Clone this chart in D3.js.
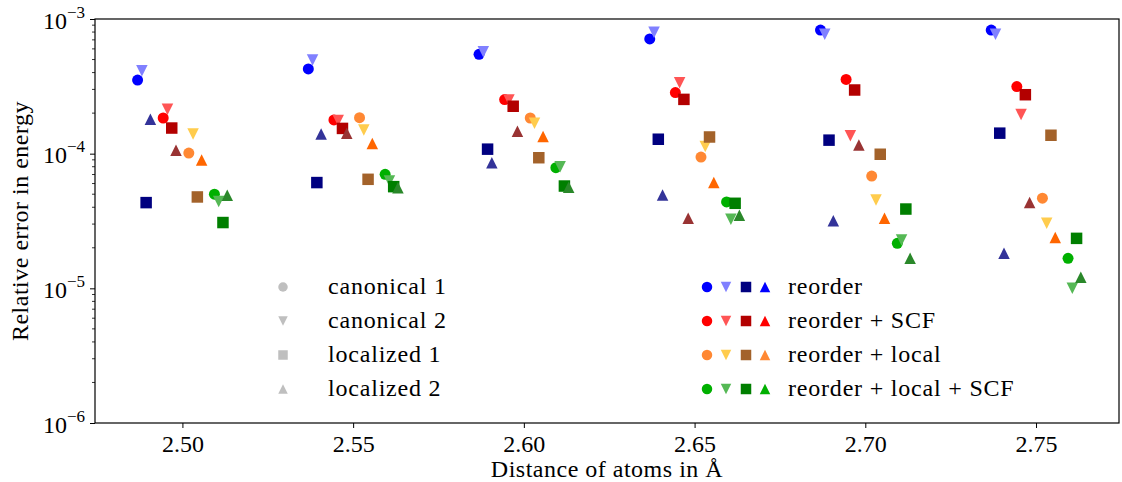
<!DOCTYPE html>
<html>
<head>
<meta charset="utf-8">
<script src="https://cdn.jsdelivr.net/npm/d3@7"></script>
<style>
  body { margin: 0; background: #fff; }
  svg, svg text { font-family: 'Liberation Serif', 'Times New Roman', serif; }
  .tick text { font-size: 24px; fill: #000; }
  .axis-label { font-size: 24px; fill: #000; letter-spacing: 0.5px; }
  .legend text { font-size: 24px; fill: #000; letter-spacing: 0.8px; }
</style>
</head>
<body>
<svg id="chart" width="1122" height="482"></svg>
<script>
const distances = [2.50, 2.55, 2.60, 2.65, 2.70, 2.75];
const xTicks = [2.50, 2.55, 2.60, 2.65, 2.70, 2.75];
const yTicks = [1e-6, 1e-5, 1e-4, 1e-3];
const orbitals = ['canonical 1', 'canonical 2', 'localized 1', 'localized 2'];
const methods = ['reorder', 'reorder + SCF', 'reorder + local', 'reorder + local + SCF'];

// rows: canonical 1, canonical 2, localized 1, localized 2
const reorder = [
  [3.52e-4, 4.26e-4, 5.47e-4, 7.11e-4, 8.28e-4, 8.28e-4],
  [4.13e-4, 4.97e-4, 5.71e-4, 7.96e-4, 7.70e-4, 7.70e-4],
  [4.33e-5, 6.10e-5, 1.08e-4, 1.28e-4, 1.26e-4, 1.42e-4],
  [1.80e-4, 1.40e-4, 8.57e-5, 4.93e-5, 3.18e-5, 1.82e-5]
];
const reorderScf = [
  [1.84e-4, 1.78e-4, 2.52e-4, 2.84e-4, 3.56e-4, 3.15e-4],
  [2.14e-4, 1.76e-4, 2.50e-4, 3.36e-4, 1.36e-4, 1.95e-4],
  [1.55e-4, 1.54e-4, 2.25e-4, 2.53e-4, 2.97e-4, 2.74e-4],
  [1.06e-4, 1.42e-4, 1.47e-4, 3.31e-5, 1.16e-4, 4.33e-5]
];
const reorderLocal = [
  [1.01e-4, 1.85e-4, 1.84e-4, 9.44e-5, 6.82e-5, 4.67e-5],
  [1.40e-4, 1.50e-4, 1.68e-4, 1.13e-4, 4.53e-5, 3.04e-5],
  [4.77e-5, 6.45e-5, 9.33e-5, 1.33e-4, 9.90e-5, 1.37e-4],
  [8.97e-5, 1.19e-4, 1.34e-4, 6.10e-5, 3.31e-5, 2.38e-5]
];
const reorderLocalScf = [
  [5.00e-5, 7.03e-5, 7.87e-5, 4.38e-5, 2.16e-5, 1.67e-5],
  [4.41e-5, 6.27e-5, 8.01e-5, 3.26e-5, 2.29e-5, 1.00e-5],
  [3.08e-5, 5.69e-5, 5.75e-5, 4.28e-5, 3.88e-5, 2.35e-5],
  [4.91e-5, 5.59e-5, 5.63e-5, 3.49e-5, 1.67e-5, 1.21e-5]
];
const allSeries = [reorder, reorderScf, reorderLocal, reorderLocalScf];

// colours per method: circle, down triangle, square, up triangle
const plotColors = [
  ['#0000ff', '#8080ff', '#000080', '#333399'],
  ['#ff0000', '#ff5555', '#b30000', '#993333'],
  ['#ff8833', '#ffcc4d', '#a3622a', '#ff6600'],
  ['#00b000', '#55b855', '#007f00', '#2a882a']
];
const legendColors = [
  ['#0000ff', '#8080ff', '#000080', '#0000ff'],
  ['#ff0000', '#ff5555', '#b30000', '#ff0000'],
  ['#ff8833', '#ffcc4d', '#a3622a', '#ff8833'],
  ['#00b000', '#55b855', '#007f00', '#00b000']
];
const shapes = ['circle', 'down', 'square', 'up'];

const svg = d3.select('#chart'),
      margin = { top: 19, right: 3, bottom: 59, left: 95 },
      width = +svg.attr('width') - margin.left - margin.right,
      height = +svg.attr('height') - margin.top - margin.bottom;

const g = svg.append('g')
    .attr('transform', `translate(${margin.left},${margin.top})`);

const x = d3.scaleLinear().domain([2.4744, 2.7743]).range([0, width]);
const y = d3.scaleLog().domain([1e-6, 1e-3]).range([height, 0]);

// small horizontal spread so the 16 markers of a distance don't overlap
const methodStep = 0.0075, markerStep = 0.00125;

function shapePath(kind, s) {
  const h = s / 2;
  if (kind === 'circle') return d3.symbol(d3.symbolCircle, Math.PI * h * h)();
  if (kind === 'square') return `M${-h},${-h}H${h}V${h}H${-h}Z`;
  if (kind === 'up') return `M0,${-h}L${h},${h}L${-h},${h}Z`;
  return `M0,${h}L${h},${-h}L${-h},${-h}Z`;
}

// x axis
const xAxis = g.append('g')
  .attr('transform', `translate(0,${height})`)
  .call(d3.axisBottom(x).tickValues(xTicks).tickFormat(d3.format('.2f')).tickSize(5).tickPadding(7));
xAxis.attr('font-family', null).attr('font-size', null);
xAxis.select('.domain').remove();
xAxis.selectAll('line').attr('stroke', '#000');

// y axis, decade labels as 10^n
const yAxis = g.append('g')
  .call(d3.axisLeft(y).tickValues(yTicks).tickFormat('').tickSize(5));
yAxis.attr('font-family', null).attr('font-size', null);
yAxis.select('.domain').remove();
yAxis.selectAll('line').attr('stroke', '#000');
yAxis.selectAll('.tick').append('text')
  .attr('x', -10)
  .attr('y', 9)
  .attr('text-anchor', 'end')
  .attr('fill', '#000')
  .each(function(d) {
    const t = d3.select(this);
    t.append('tspan').text('10');
    t.append('tspan').attr('dy', -11).style('font-size', '17px')
      .text('\u2212' + Math.round(-Math.log10(d)));
  });

const minor = [];
[1e-6, 1e-5, 1e-4].forEach(dec => { for (let k = 2; k <= 9; k++) minor.push(dec * k); });
g.selectAll('.minor')
  .data(minor)
  .enter().append('line')
    .attr('class', 'minor')
    .attr('x1', -3).attr('x2', 0)
    .attr('y1', d => y(d)).attr('y2', d => y(d))
    .attr('stroke', '#000').attr('stroke-width', 0.8);

// markers
allSeries.forEach((series, m) => {
  series.forEach((vals, k) => {
    g.selectAll(`.pt-${m}-${k}`)
      .data(vals)
      .enter().append('path')
        .attr('class', `pt-${m}-${k}`)
        .attr('transform', (d, i) => {
          const xv = distances[i] + (m - 1.5) * methodStep + (k - 1.5) * markerStep;
          return `translate(${x(xv)},${y(d)})`;
        })
        .attr('d', shapePath(shapes[k], shapes[k] === 'circle' ? 11 : 11.5))
        .attr('fill', plotColors[m][k]);
  });
});

// frame
g.append('rect')
  .attr('width', width).attr('height', height)
  .attr('fill', 'none').attr('stroke', '#000').attr('stroke-width', 1.2);

// axis labels
svg.append('text')
  .attr('class', 'axis-label')
  .attr('x', margin.left + width / 2)
  .attr('y', 477)
  .attr('text-anchor', 'middle')
  .text('Distance of atoms in \u00c5');

svg.append('text')
  .attr('class', 'axis-label')
  .attr('transform', 'rotate(-90)')
  .attr('x', -(margin.top + height / 2))
  .attr('y', 28)
  .attr('text-anchor', 'middle')
  .text('Relative error in energy');

// legend: marker shapes
const rowY = [287, 321, 355, 389];
const leg1 = svg.append('g').attr('class', 'legend');
orbitals.forEach((name, k) => {
  leg1.append('path')
    .attr('transform', `translate(283,${rowY[k]})`)
    .attr('d', shapePath(shapes[k], 9.5))
    .attr('fill', '#bfbfbf');
  leg1.append('text')
    .attr('x', 328).attr('y', rowY[k] + 7)
    .text(name);
});

// legend: methods
const leg2 = svg.append('g').attr('class', 'legend');
const legX = [707, 726, 746, 765];
methods.forEach((name, m) => {
  shapes.forEach((s, k) => {
    leg2.append('path')
      .attr('transform', `translate(${legX[k]},${rowY[m]})`)
      .attr('d', shapePath(s, 10.5))
      .attr('fill', legendColors[m][k]);
  });
  leg2.append('text')
    .attr('x', 788).attr('y', rowY[m] + 7)
    .text(name);
});
</script>
</body>
</html>
